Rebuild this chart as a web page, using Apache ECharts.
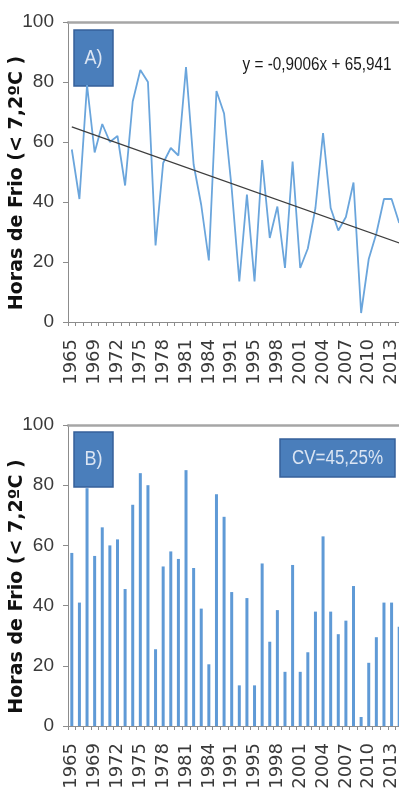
<!DOCTYPE html>
<html>
<head>
<meta charset="utf-8">
<script src="https://cdn.jsdelivr.net/npm/echarts@6/dist/echarts.min.js"></script>
<style>
  html, body { margin: 0; padding: 0; background: #ffffff; }
  #chart { width: 399px; height: 789px; }
</style>
</head>
<body>
<div id="chart"></div>
<script>
// Seasons of record (not every year is present)
const years = [
  '1965','1966','1967','1969','1970','1971','1972','1973','1974','1975',
  '1976','1977','1978','1979','1980','1981','1982','1983','1984','1989',
  '1990','1991','1993','1994','1995','1996','1997','1998','1999','2000',
  '2001','2002','2003','2004','2005','2006','2007','2008','2009','2010',
  '2011','2012','2013','2014'
];

// Chill hours below 7.2 ºC per season
const chillHours = [
  57.5, 41, 79, 56.5, 66, 60, 62, 45.5, 73.5, 84,
  80, 25.5, 53, 58, 55.5, 85, 52.5, 39, 20.5, 77,
  69.5, 44.5, 13.5, 42.5, 13.5, 54, 28, 38.5, 18, 53.5,
  18, 24.5, 38, 63, 38, 30.5, 35, 46.5, 3, 21,
  29.5, 41, 41, 33
];

// Linear trend fitted on the series index (1..n)
const trendSlope = -0.9006;
const trendIntercept = 65.941;
const trendLabel = 'y = -0,9006x + 65,941';
const cvLabel = 'CV=45,25%';
const yTicks = { min: 0, max: 100, interval: 20 };
const yName = 'Horas de Frio (< 7,2ºC )';

const n = chillHours.length;
const trendData = chillHours.map((_, i) =>
  (i === 0 || i === n - 1) ? +(trendIntercept + trendSlope * (i + 1)).toFixed(3) : null
);

const sans = '"Liberation Sans", Arial, sans-serif';
const axisGray = '#8c8c8c';
const labelColor = '#3a3a3a';

function bottomAxis(gridIndex) {
  return {
    type: 'category', gridIndex, data: years, position: 'bottom',
    boundaryGap: true,
    axisLine: { lineStyle: { color: axisGray, width: 1 } },
    axisTick: { show: true, interval: 0, length: 4, lineStyle: { color: axisGray } },
    axisLabel: {
      interval: 2, rotate: 90, margin: 17,
      fontFamily: '"DejaVu Sans", sans-serif', fontSize: 18, color: labelColor
    },
    splitLine: { show: false }
  };
}
function topBorder(gridIndex) {
  return {
    type: 'category', gridIndex, data: years, position: 'top',
    axisLine: { lineStyle: { color: '#a6a6a6', width: 2.5 } },
    axisTick: { show: false }, axisLabel: { show: false }, splitLine: { show: false }
  };
}
function leftAxis(gridIndex) {
  return {
    type: 'value', gridIndex, min: yTicks.min, max: yTicks.max, interval: yTicks.interval,
    axisLine: { show: true, lineStyle: { color: axisGray, width: 1 } },
    axisTick: { show: true, length: 5, lineStyle: { color: axisGray } },
    axisLabel: { fontFamily: sans, fontSize: 19, color: labelColor, margin: 14 },
    splitLine: { show: false },
    name: yName, nameLocation: 'middle', nameRotate: 90, nameGap: 51,
    nameMoveOverlap: false,
    nameTextStyle: {
      fontFamily: '"DejaVu Sans", sans-serif', fontWeight: 'bold',
      fontSize: 19, color: '#111111', verticalAlign: 'middle',
      padding: [0, 22, 0, 0]
    }
  };
}

function labelBox(x, y, w, h, text, fontSize, sx) {
  return {
    type: 'group', x, y, z: 100,
    children: [
      { type: 'rect', shape: { x: 0, y: 0, width: w, height: h },
        style: { fill: '#4a7ebb', stroke: '#36609a', lineWidth: 1.5 } },
      { type: 'text', x: w / 2, y: h / 2, scaleX: sx,
        style: { text, fill: '#dbe5f3', font: fontSize + 'px ' + sans,
                 textAlign: 'center', textVerticalAlign: 'middle' } }
    ]
  };
}

const gridBase = { containLabel: false, outerBoundsMode: 'none' };

const chart = echarts.init(document.getElementById('chart'), null, { renderer: 'canvas' });
chart.setOption({
  animation: false,
  backgroundColor: '#ffffff',
  grid: [
    Object.assign({ left: 68, top: 22, width: 335, height: 300 }, gridBase),
    Object.assign({ left: 68, top: 425, width: 335, height: 301 }, gridBase)
  ],
  xAxis: [bottomAxis(0), topBorder(0), bottomAxis(1), topBorder(1)],
  yAxis: [leftAxis(0), leftAxis(1)],
  series: [
    {
      name: 'Horas de frío', type: 'line', xAxisIndex: 0, yAxisIndex: 0,
      data: chillHours, symbol: 'none',
      lineStyle: { color: '#6aa5dc', width: 1.8 }, z: 3
    },
    {
      name: 'Tendencia', type: 'line', xAxisIndex: 0, yAxisIndex: 0,
      data: trendData, connectNulls: true, symbol: 'none',
      lineStyle: { color: '#3d3d3d', width: 1.2 }, z: 4
    },
    {
      name: 'Horas de frío', type: 'bar', xAxisIndex: 2, yAxisIndex: 1,
      data: chillHours, barWidth: 3,
      itemStyle: { color: '#5f9ad6' }
    }
  ],
  graphic: [
    labelBox(74, 30, 39, 56, 'A)', 20, 0.9),
    labelBox(74, 432, 39, 55, 'B)', 20, 0.9),
    labelBox(280, 439, 115, 38, cvLabel, 20, 0.85),
    {
      type: 'text', x: 317, y: 65, z: 100, scaleX: 0.85,
      style: { text: trendLabel, fill: '#1a1a1a', font: '18px ' + sans,
               textAlign: 'center', textVerticalAlign: 'middle' }
    }
  ]
});
</script>
</body>
</html>
